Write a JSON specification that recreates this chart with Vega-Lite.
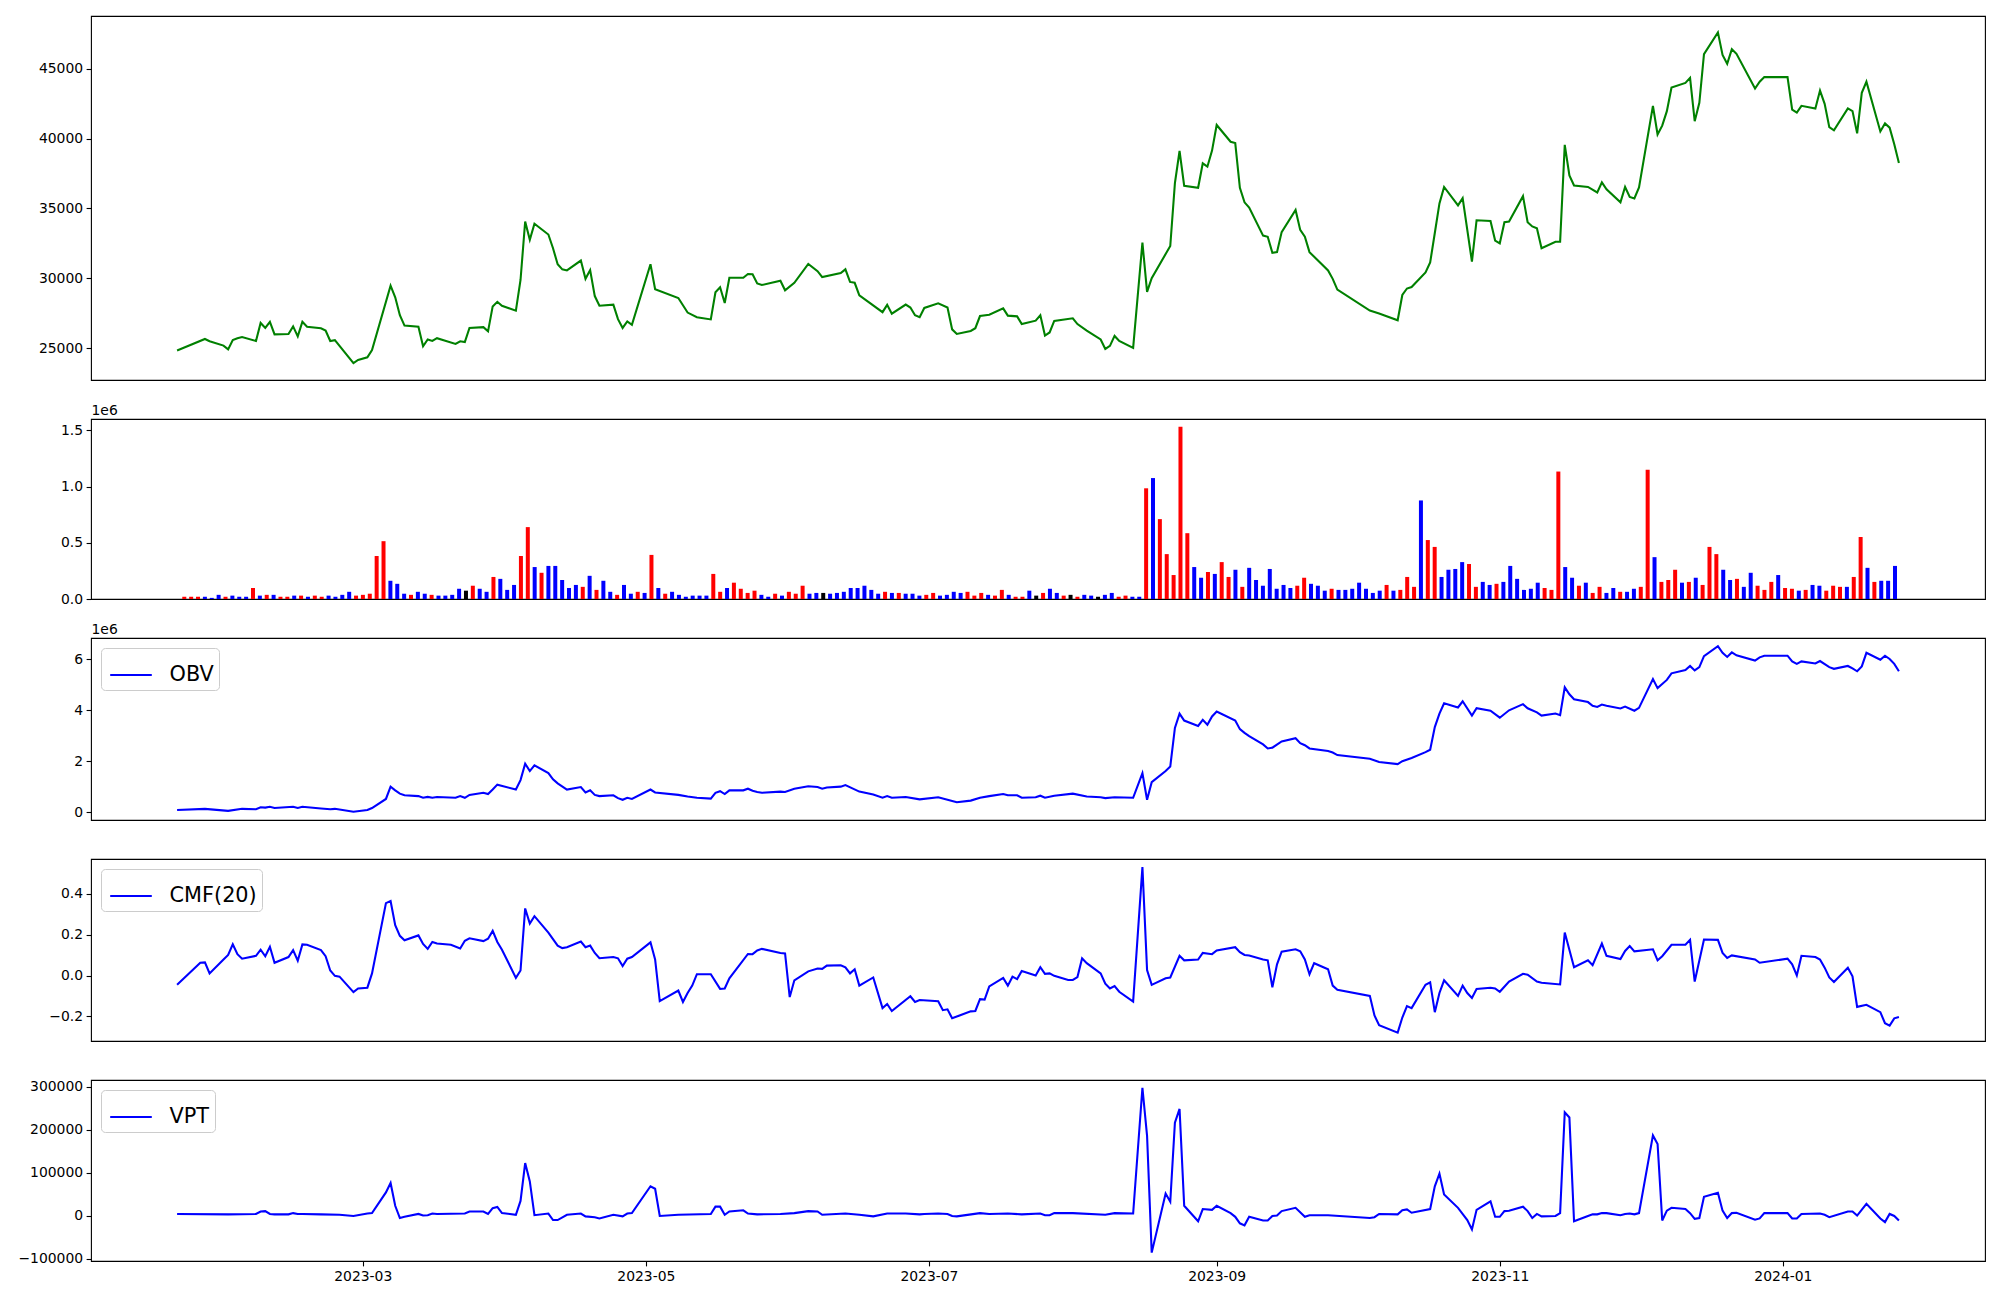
{
"$schema": "https://vega.github.io/schema/vega-lite/v6.json",
"background": "white",
"padding": {"left": 17, "top": 15, "right": 5, "bottom": 5},
"config": {
 "font": "DejaVu Sans",
 "view": {"stroke": "black", "strokeWidth": 1.1},
 "axis": {"domain": false, "grid": false, "tickColor": "black", "tickSize": 4.9, "tickWidth": 1.1, "labelColor": "black", "labelFontSize": 13.9, "labelPadding": 3.5, "labelOverlap": false, "labelFlush": false, "titleColor": "black"},
 "legend": {"orient": "top-left", "offset": 10.4, "symbolType": "stroke", "symbolSize": 1730, "symbolStrokeWidth": 2.08, "symbolOffset": 3, "labelFontSize": 20.8, "labelColor": "black", "labelOffset": 16.6, "padding": 5, "fillColor": "rgba(255,255,255,0.8)", "strokeColor": "#cccccc", "cornerRadius": 4}
},
"datasets": {
"price": [
{"date":"2023-01-20","close":24850},{"date":"2023-01-26","close":25670},{"date":"2023-01-27","close":25510},{"date":"2023-01-30","close":25200},{"date":"2023-01-31","close":24930},{"date":"2023-02-01","close":25590},{"date":"2023-02-02","close":25720},{"date":"2023-02-03","close":25810},{"date":"2023-02-06","close":25530},{"date":"2023-02-07","close":26820},{"date":"2023-02-08","close":26460},{"date":"2023-02-09","close":26900},{"date":"2023-02-10","close":26000},{"date":"2023-02-13","close":26030},{"date":"2023-02-14","close":26570},{"date":"2023-02-15","close":25860},{"date":"2023-02-16","close":26900},{"date":"2023-02-17","close":26550},{"date":"2023-02-20","close":26440},{"date":"2023-02-21","close":26270},{"date":"2023-02-22","close":25530},{"date":"2023-02-23","close":25590},{"date":"2023-02-27","close":23950},{"date":"2023-02-28","close":24170},{"date":"2023-03-02","close":24360},{"date":"2023-03-03","close":24880},{"date":"2023-03-07","close":29480},{"date":"2023-03-08","close":28650},{"date":"2023-03-09","close":27370},{"date":"2023-03-10","close":26630},{"date":"2023-03-13","close":26550},{"date":"2023-03-14","close":25150},{"date":"2023-03-15","close":25640},{"date":"2023-03-16","close":25530},{"date":"2023-03-17","close":25730},{"date":"2023-03-21","close":25320},{"date":"2023-03-22","close":25510},{"date":"2023-03-23","close":25450},{"date":"2023-03-24","close":26460},{"date":"2023-03-27","close":26520},{"date":"2023-03-28","close":26220},{"date":"2023-03-29","close":28000},{"date":"2023-03-30","close":28330},{"date":"2023-03-31","close":28050},{"date":"2023-04-03","close":27700},{"date":"2023-04-04","close":29890},{"date":"2023-04-05","close":34070},{"date":"2023-04-06","close":32760},{"date":"2023-04-07","close":33910},{"date":"2023-04-10","close":33140},{"date":"2023-04-11","close":32160},{"date":"2023-04-12","close":31010},{"date":"2023-04-13","close":30650},{"date":"2023-04-14","close":30570},{"date":"2023-04-17","close":31280},{"date":"2023-04-18","close":29970},{"date":"2023-04-19","close":30600},{"date":"2023-04-20","close":28740},{"date":"2023-04-21","close":28050},{"date":"2023-04-24","close":28130},{"date":"2023-04-25","close":27090},{"date":"2023-04-26","close":26460},{"date":"2023-04-27","close":26930},{"date":"2023-04-28","close":26680},{"date":"2023-05-02","close":31010},{"date":"2023-05-03","close":29230},{"date":"2023-05-08","close":28600},{"date":"2023-05-10","close":27560},{"date":"2023-05-12","close":27230},{"date":"2023-05-15","close":27070},{"date":"2023-05-16","close":29010},{"date":"2023-05-17","close":29370},{"date":"2023-05-18","close":28240},{"date":"2023-05-19","close":30050},{"date":"2023-05-22","close":30050},{"date":"2023-05-23","close":30320},{"date":"2023-05-24","close":30300},{"date":"2023-05-25","close":29640},{"date":"2023-05-26","close":29530},{"date":"2023-05-30","close":29830},{"date":"2023-05-31","close":29150},{"date":"2023-06-02","close":29690},{"date":"2023-06-05","close":31040},{"date":"2023-06-07","close":30520},{"date":"2023-06-08","close":30100},{"date":"2023-06-12","close":30380},{"date":"2023-06-13","close":30650},{"date":"2023-06-14","close":29750},{"date":"2023-06-15","close":29690},{"date":"2023-06-16","close":28790},{"date":"2023-06-21","close":27590},{"date":"2023-06-22","close":28110},{"date":"2023-06-23","close":27480},{"date":"2023-06-26","close":28130},{"date":"2023-06-27","close":27920},{"date":"2023-06-28","close":27370},{"date":"2023-06-29","close":27230},{"date":"2023-06-30","close":27890},{"date":"2023-07-03","close":28220},{"date":"2023-07-05","close":27920},{"date":"2023-07-06","close":26360},{"date":"2023-07-07","close":26030},{"date":"2023-07-10","close":26250},{"date":"2023-07-11","close":26440},{"date":"2023-07-12","close":27310},{"date":"2023-07-14","close":27400},{"date":"2023-07-17","close":27860},{"date":"2023-07-18","close":27340},{"date":"2023-07-20","close":27290},{"date":"2023-07-21","close":26740},{"date":"2023-07-24","close":26980},{"date":"2023-07-25","close":27370},{"date":"2023-07-26","close":25920},{"date":"2023-07-27","close":26140},{"date":"2023-07-28","close":26960},{"date":"2023-08-01","close":27150},{"date":"2023-08-02","close":26740},{"date":"2023-08-04","close":26270},{"date":"2023-08-07","close":25640},{"date":"2023-08-08","close":24960},{"date":"2023-08-09","close":25180},{"date":"2023-08-10","close":25890},{"date":"2023-08-11","close":25530},{"date":"2023-08-14","close":25040},{"date":"2023-08-16","close":32570},{"date":"2023-08-17","close":29040},{"date":"2023-08-18","close":30020},{"date":"2023-08-22","close":32320},{"date":"2023-08-23","close":36810},{"date":"2023-08-24","close":39110},{"date":"2023-08-25","close":36620},{"date":"2023-08-28","close":36480},{"date":"2023-08-29","close":38230},{"date":"2023-08-30","close":37990},{"date":"2023-08-31","close":39140},{"date":"2023-09-01","close":40970},{"date":"2023-09-04","close":39770},{"date":"2023-09-05","close":39680},{"date":"2023-09-06","close":36480},{"date":"2023-09-07","close":35440},{"date":"2023-09-08","close":35060},{"date":"2023-09-11","close":33060},{"date":"2023-09-12","close":32980},{"date":"2023-09-13","close":31830},{"date":"2023-09-14","close":31880},{"date":"2023-09-15","close":33310},{"date":"2023-09-18","close":34890},{"date":"2023-09-19","close":33470},{"date":"2023-09-20","close":32980},{"date":"2023-09-21","close":31880},{"date":"2023-09-25","close":30570},{"date":"2023-09-26","close":29970},{"date":"2023-09-27","close":29200},{"date":"2023-10-04","close":27700},{"date":"2023-10-06","close":27500},{"date":"2023-10-10","close":27010},{"date":"2023-10-11","close":28820},{"date":"2023-10-12","close":29280},{"date":"2023-10-13","close":29390},{"date":"2023-10-16","close":30430},{"date":"2023-10-17","close":31140},{"date":"2023-10-18","close":33250},{"date":"2023-10-19","close":35360},{"date":"2023-10-20","close":36540},{"date":"2023-10-23","close":35220},{"date":"2023-10-24","close":35740},{"date":"2023-10-26","close":31200},{"date":"2023-10-27","close":34160},{"date":"2023-10-30","close":34100},{"date":"2023-10-31","close":32710},{"date":"2023-11-01","close":32510},{"date":"2023-11-02","close":34020},{"date":"2023-11-03","close":34070},{"date":"2023-11-06","close":35880},{"date":"2023-11-07","close":34020},{"date":"2023-11-08","close":33720},{"date":"2023-11-09","close":33580},{"date":"2023-11-10","close":32160},{"date":"2023-11-13","close":32620},{"date":"2023-11-14","close":32620},{"date":"2023-11-15","close":39550},{"date":"2023-11-16","close":37360},{"date":"2023-11-17","close":36650},{"date":"2023-11-20","close":36540},{"date":"2023-11-22","close":36150},{"date":"2023-11-23","close":36870},{"date":"2023-11-24","close":36370},{"date":"2023-11-27","close":35440},{"date":"2023-11-28","close":36540},{"date":"2023-11-29","close":35830},{"date":"2023-11-30","close":35720},{"date":"2023-12-01","close":36510},{"date":"2023-12-04","close":42340},{"date":"2023-12-05","close":40290},{"date":"2023-12-06","close":40920},{"date":"2023-12-07","close":41960},{"date":"2023-12-08","close":43650},{"date":"2023-12-11","close":43980},{"date":"2023-12-12","close":44340},{"date":"2023-12-13","close":41240},{"date":"2023-12-14","close":42560},{"date":"2023-12-15","close":46030},{"date":"2023-12-18","close":47590},{"date":"2023-12-19","close":45980},{"date":"2023-12-20","close":45350},{"date":"2023-12-21","close":46390},{"date":"2023-12-22","close":46060},{"date":"2023-12-26","close":43570},{"date":"2023-12-27","close":44060},{"date":"2023-12-28","close":44390},{"date":"2024-01-02","close":44390},{"date":"2024-01-03","close":42070},{"date":"2024-01-04","close":41850},{"date":"2024-01-05","close":42340},{"date":"2024-01-08","close":42150},{"date":"2024-01-09","close":43430},{"date":"2024-01-10","close":42480},{"date":"2024-01-11","close":40810},{"date":"2024-01-12","close":40590},{"date":"2024-01-15","close":42150},{"date":"2024-01-16","close":41960},{"date":"2024-01-17","close":40370},{"date":"2024-01-18","close":43270},{"date":"2024-01-19","close":44060},{"date":"2024-01-22","close":40510},{"date":"2024-01-23","close":41080},{"date":"2024-01-24","close":40780},{"date":"2024-01-25","close":39600},{"date":"2024-01-26","close":38260}
],
"bars": [
{"t":1674222400000,"volume":20000,"dir":"up"},{"t":1674350980000,"volume":20000,"dir":"up"},{"t":1674479560000,"volume":20000,"dir":"up"},{"t":1674608140000,"volume":20000,"dir":"down"},{"t":1674736720000,"volume":10000,"dir":"down"},{"t":1674865300000,"volume":37000,"dir":"down"},{"t":1674993880000,"volume":20000,"dir":"up"},{"t":1675122460000,"volume":30000,"dir":"down"},{"t":1675251040000,"volume":20000,"dir":"down"},{"t":1675379620000,"volume":20000,"dir":"down"},
{"t":1675508200000,"volume":98000,"dir":"up"},{"t":1675636780000,"volume":30000,"dir":"down"},{"t":1675765360000,"volume":37000,"dir":"up"},{"t":1675893940000,"volume":37000,"dir":"down"},{"t":1676022520000,"volume":20000,"dir":"up"},{"t":1676151100000,"volume":20000,"dir":"up"},{"t":1676279680000,"volume":30000,"dir":"down"},{"t":1676408260000,"volume":30000,"dir":"up"},{"t":1676536840000,"volume":20000,"dir":"down"},{"t":1676665420000,"volume":30000,"dir":"up"},
{"t":1676794000000,"volume":20000,"dir":"up"},{"t":1676922580000,"volume":30000,"dir":"down"},{"t":1677051160000,"volume":20000,"dir":"down"},{"t":1677179740000,"volume":37000,"dir":"down"},{"t":1677308320000,"volume":64000,"dir":"down"},{"t":1677436900000,"volume":30000,"dir":"up"},{"t":1677565480000,"volume":37000,"dir":"up"},{"t":1677694060000,"volume":47000,"dir":"up"},{"t":1677822640000,"volume":382000,"dir":"up"},{"t":1677951220000,"volume":514000,"dir":"up"},
{"t":1678079800000,"volume":162000,"dir":"down"},{"t":1678208380000,"volume":135000,"dir":"down"},{"t":1678336960000,"volume":47000,"dir":"down"},{"t":1678465540000,"volume":37000,"dir":"up"},{"t":1678594120000,"volume":64000,"dir":"down"},{"t":1678722700000,"volume":47000,"dir":"down"},{"t":1678851280000,"volume":37000,"dir":"up"},{"t":1678979860000,"volume":30000,"dir":"down"},{"t":1679108440000,"volume":30000,"dir":"down"},{"t":1679237020000,"volume":37000,"dir":"down"},
{"t":1679365600000,"volume":91000,"dir":"down"},{"t":1679494180000,"volume":74000,"dir":"flat"},{"t":1679622760000,"volume":118000,"dir":"up"},{"t":1679751340000,"volume":91000,"dir":"down"},{"t":1679879920000,"volume":64000,"dir":"down"},{"t":1680008500000,"volume":196000,"dir":"up"},{"t":1680137080000,"volume":179000,"dir":"down"},{"t":1680265660000,"volume":81000,"dir":"down"},{"t":1680394240000,"volume":125000,"dir":"down"},{"t":1680522820000,"volume":382000,"dir":"up"},
{"t":1680651400000,"volume":639000,"dir":"up"},{"t":1680779980000,"volume":284000,"dir":"down"},{"t":1680908560000,"volume":233000,"dir":"up"},{"t":1681037140000,"volume":294000,"dir":"down"},{"t":1681165720000,"volume":294000,"dir":"down"},{"t":1681294300000,"volume":169000,"dir":"down"},{"t":1681422880000,"volume":98000,"dir":"down"},{"t":1681551460000,"volume":125000,"dir":"down"},{"t":1681680040000,"volume":108000,"dir":"up"},{"t":1681808620000,"volume":206000,"dir":"down"},
{"t":1681937200000,"volume":81000,"dir":"up"},{"t":1682065780000,"volume":162000,"dir":"down"},{"t":1682194360000,"volume":64000,"dir":"down"},{"t":1682322940000,"volume":37000,"dir":"up"},{"t":1682451520000,"volume":125000,"dir":"down"},{"t":1682580100000,"volume":47000,"dir":"down"},{"t":1682708680000,"volume":64000,"dir":"up"},{"t":1682837260000,"volume":54000,"dir":"down"},{"t":1682965840000,"volume":392000,"dir":"up"},{"t":1683094420000,"volume":98000,"dir":"down"},
{"t":1683223000000,"volume":47000,"dir":"up"},{"t":1683351580000,"volume":64000,"dir":"down"},{"t":1683480160000,"volume":37000,"dir":"down"},{"t":1683608740000,"volume":20000,"dir":"down"},{"t":1683737320000,"volume":30000,"dir":"down"},{"t":1683865900000,"volume":30000,"dir":"down"},{"t":1683994480000,"volume":30000,"dir":"down"},{"t":1684123060000,"volume":223000,"dir":"up"},{"t":1684251640000,"volume":64000,"dir":"up"},{"t":1684380220000,"volume":98000,"dir":"down"},
{"t":1684508800000,"volume":145000,"dir":"up"},{"t":1684637380000,"volume":91000,"dir":"up"},{"t":1684765960000,"volume":54000,"dir":"up"},{"t":1684894540000,"volume":74000,"dir":"up"},{"t":1685023120000,"volume":37000,"dir":"down"},{"t":1685151700000,"volume":20000,"dir":"down"},{"t":1685280280000,"volume":47000,"dir":"up"},{"t":1685408860000,"volume":30000,"dir":"down"},{"t":1685537440000,"volume":64000,"dir":"up"},{"t":1685666020000,"volume":47000,"dir":"up"},
{"t":1685794600000,"volume":118000,"dir":"up"},{"t":1685923180000,"volume":47000,"dir":"down"},{"t":1686051760000,"volume":54000,"dir":"down"},{"t":1686180340000,"volume":54000,"dir":"flat"},{"t":1686308920000,"volume":47000,"dir":"down"},{"t":1686437500000,"volume":54000,"dir":"down"},{"t":1686566080000,"volume":64000,"dir":"down"},{"t":1686694660000,"volume":98000,"dir":"down"},{"t":1686823240000,"volume":98000,"dir":"down"},{"t":1686951820000,"volume":118000,"dir":"down"},
{"t":1687080400000,"volume":81000,"dir":"down"},{"t":1687208980000,"volume":47000,"dir":"down"},{"t":1687337560000,"volume":64000,"dir":"up"},{"t":1687466140000,"volume":54000,"dir":"down"},{"t":1687594720000,"volume":54000,"dir":"up"},{"t":1687723300000,"volume":47000,"dir":"down"},{"t":1687851880000,"volume":47000,"dir":"down"},{"t":1687980460000,"volume":30000,"dir":"down"},{"t":1688109040000,"volume":37000,"dir":"up"},{"t":1688237620000,"volume":54000,"dir":"up"},
{"t":1688366200000,"volume":30000,"dir":"down"},{"t":1688494780000,"volume":37000,"dir":"down"},{"t":1688623360000,"volume":64000,"dir":"down"},{"t":1688751940000,"volume":54000,"dir":"down"},{"t":1688880520000,"volume":64000,"dir":"up"},{"t":1689009100000,"volume":30000,"dir":"up"},{"t":1689137680000,"volume":54000,"dir":"up"},{"t":1689266260000,"volume":37000,"dir":"down"},{"t":1689394840000,"volume":30000,"dir":"up"},{"t":1689523420000,"volume":81000,"dir":"up"},
{"t":1689652000000,"volume":37000,"dir":"down"},{"t":1689780580000,"volume":20000,"dir":"up"},{"t":1689909160000,"volume":20000,"dir":"up"},{"t":1690037740000,"volume":74000,"dir":"down"},{"t":1690166320000,"volume":30000,"dir":"flat"},{"t":1690294900000,"volume":54000,"dir":"up"},{"t":1690423480000,"volume":91000,"dir":"down"},{"t":1690552060000,"volume":54000,"dir":"down"},{"t":1690680640000,"volume":30000,"dir":"up"},{"t":1690809220000,"volume":37000,"dir":"flat"},
{"t":1690937800000,"volume":20000,"dir":"up"},{"t":1691066380000,"volume":37000,"dir":"down"},{"t":1691194960000,"volume":30000,"dir":"down"},{"t":1691323540000,"volume":20000,"dir":"flat"},{"t":1691452120000,"volume":37000,"dir":"down"},{"t":1691580700000,"volume":54000,"dir":"down"},{"t":1691709280000,"volume":20000,"dir":"up"},{"t":1691837860000,"volume":30000,"dir":"up"},{"t":1691966440000,"volume":20000,"dir":"down"},{"t":1692095020000,"volume":20000,"dir":"down"},
{"t":1692223600000,"volume":984000,"dir":"up"},{"t":1692352180000,"volume":1075000,"dir":"down"},{"t":1692480760000,"volume":710000,"dir":"up"},{"t":1692609340000,"volume":399000,"dir":"up"},{"t":1692737920000,"volume":213000,"dir":"up"},{"t":1692866500000,"volume":1532000,"dir":"up"},{"t":1692995080000,"volume":585000,"dir":"up"},{"t":1693123660000,"volume":284000,"dir":"down"},{"t":1693252240000,"volume":189000,"dir":"down"},{"t":1693380820000,"volume":240000,"dir":"up"},
{"t":1693509400000,"volume":223000,"dir":"down"},{"t":1693637980000,"volume":328000,"dir":"up"},{"t":1693766560000,"volume":196000,"dir":"up"},{"t":1693895140000,"volume":260000,"dir":"down"},{"t":1694023720000,"volume":108000,"dir":"up"},{"t":1694152300000,"volume":277000,"dir":"down"},{"t":1694280880000,"volume":169000,"dir":"down"},{"t":1694409460000,"volume":118000,"dir":"down"},{"t":1694538040000,"volume":267000,"dir":"down"},{"t":1694666620000,"volume":91000,"dir":"down"},
{"t":1694795200000,"volume":125000,"dir":"down"},{"t":1694923780000,"volume":98000,"dir":"down"},{"t":1695052360000,"volume":118000,"dir":"up"},{"t":1695180940000,"volume":189000,"dir":"up"},{"t":1695309520000,"volume":135000,"dir":"down"},{"t":1695438100000,"volume":118000,"dir":"down"},{"t":1695566680000,"volume":74000,"dir":"down"},{"t":1695695260000,"volume":91000,"dir":"up"},{"t":1695823840000,"volume":81000,"dir":"down"},{"t":1695952420000,"volume":81000,"dir":"down"},
{"t":1696081000000,"volume":91000,"dir":"down"},{"t":1696209580000,"volume":145000,"dir":"down"},{"t":1696338160000,"volume":91000,"dir":"down"},{"t":1696466740000,"volume":54000,"dir":"down"},{"t":1696595320000,"volume":74000,"dir":"down"},{"t":1696723900000,"volume":125000,"dir":"up"},{"t":1696852480000,"volume":74000,"dir":"down"},{"t":1696981060000,"volume":81000,"dir":"up"},{"t":1697109640000,"volume":196000,"dir":"up"},{"t":1697238220000,"volume":108000,"dir":"up"},
{"t":1697366800000,"volume":876000,"dir":"down"},{"t":1697495380000,"volume":524000,"dir":"up"},{"t":1697623960000,"volume":463000,"dir":"up"},{"t":1697752540000,"volume":196000,"dir":"down"},{"t":1697881120000,"volume":260000,"dir":"down"},{"t":1698009700000,"volume":267000,"dir":"down"},{"t":1698138280000,"volume":328000,"dir":"down"},{"t":1698266860000,"volume":311000,"dir":"up"},{"t":1698395440000,"volume":108000,"dir":"up"},{"t":1698524020000,"volume":152000,"dir":"down"},
{"t":1698652600000,"volume":125000,"dir":"down"},{"t":1698781180000,"volume":135000,"dir":"up"},{"t":1698909760000,"volume":152000,"dir":"down"},{"t":1699038340000,"volume":294000,"dir":"down"},{"t":1699166920000,"volume":179000,"dir":"down"},{"t":1699295500000,"volume":81000,"dir":"down"},{"t":1699424080000,"volume":91000,"dir":"down"},{"t":1699552660000,"volume":145000,"dir":"down"},{"t":1699681240000,"volume":98000,"dir":"up"},{"t":1699809820000,"volume":81000,"dir":"up"},
{"t":1699938400000,"volume":1133000,"dir":"up"},{"t":1700066980000,"volume":284000,"dir":"down"},{"t":1700195560000,"volume":189000,"dir":"down"},{"t":1700324140000,"volume":118000,"dir":"up"},{"t":1700452720000,"volume":145000,"dir":"down"},{"t":1700581300000,"volume":54000,"dir":"up"},{"t":1700709880000,"volume":108000,"dir":"up"},{"t":1700838460000,"volume":54000,"dir":"down"},{"t":1700967040000,"volume":98000,"dir":"down"},{"t":1701095620000,"volume":64000,"dir":"up"},
{"t":1701224200000,"volume":64000,"dir":"down"},{"t":1701352780000,"volume":91000,"dir":"down"},{"t":1701481360000,"volume":108000,"dir":"up"},{"t":1701609940000,"volume":1150000,"dir":"up"},{"t":1701738520000,"volume":372000,"dir":"down"},{"t":1701867100000,"volume":152000,"dir":"up"},{"t":1701995680000,"volume":169000,"dir":"up"},{"t":1702124260000,"volume":260000,"dir":"up"},{"t":1702252840000,"volume":145000,"dir":"down"},{"t":1702381420000,"volume":152000,"dir":"up"},
{"t":1702510000000,"volume":189000,"dir":"down"},{"t":1702638580000,"volume":125000,"dir":"up"},{"t":1702767160000,"volume":463000,"dir":"up"},{"t":1702895740000,"volume":399000,"dir":"up"},{"t":1703024320000,"volume":260000,"dir":"down"},{"t":1703152900000,"volume":169000,"dir":"down"},{"t":1703281480000,"volume":179000,"dir":"up"},{"t":1703410060000,"volume":108000,"dir":"down"},{"t":1703538640000,"volume":233000,"dir":"down"},{"t":1703667220000,"volume":118000,"dir":"up"},
{"t":1703795800000,"volume":81000,"dir":"up"},{"t":1703924380000,"volume":152000,"dir":"up"},{"t":1704052960000,"volume":213000,"dir":"down"},{"t":1704181540000,"volume":98000,"dir":"up"},{"t":1704310120000,"volume":91000,"dir":"up"},{"t":1704438700000,"volume":74000,"dir":"down"},{"t":1704567280000,"volume":81000,"dir":"up"},{"t":1704695860000,"volume":125000,"dir":"down"},{"t":1704824440000,"volume":118000,"dir":"down"},{"t":1704953020000,"volume":74000,"dir":"up"},
{"t":1705081600000,"volume":118000,"dir":"up"},{"t":1705210180000,"volume":108000,"dir":"up"},{"t":1705338760000,"volume":108000,"dir":"down"},{"t":1705467340000,"volume":196000,"dir":"up"},{"t":1705595920000,"volume":551000,"dir":"up"},{"t":1705724500000,"volume":277000,"dir":"down"},{"t":1705853080000,"volume":152000,"dir":"up"},{"t":1705981660000,"volume":162000,"dir":"down"},{"t":1706110240000,"volume":162000,"dir":"down"},{"t":1706238820000,"volume":294000,"dir":"down"}
],
"obv": [
{"date":"2023-01-20","obv":84000},{"date":"2023-01-26","obv":132000},{"date":"2023-01-31","obv":52000},{"date":"2023-02-03","obv":132000},{"date":"2023-02-06","obv":116000},{"date":"2023-02-07","obv":197000},{"date":"2023-02-08","obv":181000},{"date":"2023-02-09","obv":213000},{"date":"2023-02-10","obv":164000},{"date":"2023-02-14","obv":213000},{"date":"2023-02-15","obv":164000},{"date":"2023-02-16","obv":213000},{"date":"2023-02-20","obv":148000},{"date":"2023-02-22","obv":116000},{"date":"2023-02-23","obv":132000},{"date":"2023-02-27","obv":19000},{"date":"2023-03-02","obv":84000},{"date":"2023-03-03","obv":164000},{"date":"2023-03-06","obv":519000},{"date":"2023-03-07","obv":1003000},{"date":"2023-03-08","obv":858000},{"date":"2023-03-09","obv":729000},{"date":"2023-03-10","obv":664000},{"date":"2023-03-13","obv":632000},{"date":"2023-03-14","obv":567000},{"date":"2023-03-15","obv":600000},{"date":"2023-03-16","obv":567000},{"date":"2023-03-17","obv":600000},{"date":"2023-03-21","obv":567000},{"date":"2023-03-22","obv":632000},{"date":"2023-03-23","obv":567000},{"date":"2023-03-24","obv":680000},{"date":"2023-03-27","obv":761000},{"date":"2023-03-28","obv":713000},{"date":"2023-03-29","obv":890000},{"date":"2023-03-30","obv":1083000},{"date":"2023-04-03","obv":890000},{"date":"2023-04-04","obv":1261000},{"date":"2023-04-05","obv":1905000},{"date":"2023-04-06","obv":1615000},{"date":"2023-04-07","obv":1841000},{"date":"2023-04-10","obv":1535000},{"date":"2023-04-11","obv":1293000},{"date":"2023-04-12","obv":1132000},{"date":"2023-04-14","obv":890000},{"date":"2023-04-17","obv":987000},{"date":"2023-04-18","obv":777000},{"date":"2023-04-19","obv":858000},{"date":"2023-04-20","obv":680000},{"date":"2023-04-21","obv":632000},{"date":"2023-04-24","obv":664000},{"date":"2023-04-25","obv":552000},{"date":"2023-04-26","obv":488000},{"date":"2023-04-27","obv":567000},{"date":"2023-04-28","obv":519000},{"date":"2023-05-02","obv":890000},{"date":"2023-05-03","obv":777000},{"date":"2023-05-08","obv":680000},{"date":"2023-05-10","obv":616000},{"date":"2023-05-12","obv":567000},{"date":"2023-05-15","obv":535000},{"date":"2023-05-16","obv":761000},{"date":"2023-05-17","obv":826000},{"date":"2023-05-18","obv":713000},{"date":"2023-05-19","obv":858000},{"date":"2023-05-22","obv":858000},{"date":"2023-05-23","obv":922000},{"date":"2023-05-24","obv":840000},{"date":"2023-05-25","obv":793000},{"date":"2023-05-26","obv":761000},{"date":"2023-05-30","obv":809000},{"date":"2023-05-31","obv":793000},{"date":"2023-06-02","obv":922000},{"date":"2023-06-05","obv":1019000},{"date":"2023-06-07","obv":987000},{"date":"2023-06-08","obv":922000},{"date":"2023-06-09","obv":971000},{"date":"2023-06-12","obv":1003000},{"date":"2023-06-13","obv":1067000},{"date":"2023-06-16","obv":809000},{"date":"2023-06-19","obv":696000},{"date":"2023-06-21","obv":567000},{"date":"2023-06-22","obv":632000},{"date":"2023-06-23","obv":567000},{"date":"2023-06-26","obv":600000},{"date":"2023-06-29","obv":503000},{"date":"2023-07-03","obv":584000},{"date":"2023-07-05","obv":487000},{"date":"2023-07-07","obv":390000},{"date":"2023-07-10","obv":455000},{"date":"2023-07-12","obv":567000},{"date":"2023-07-14","obv":632000},{"date":"2023-07-17","obv":713000},{"date":"2023-07-18","obv":664000},{"date":"2023-07-20","obv":664000},{"date":"2023-07-21","obv":567000},{"date":"2023-07-24","obv":584000},{"date":"2023-07-25","obv":648000},{"date":"2023-07-26","obv":567000},{"date":"2023-07-28","obv":648000},{"date":"2023-08-01","obv":729000},{"date":"2023-08-04","obv":616000},{"date":"2023-08-07","obv":584000},{"date":"2023-08-08","obv":552000},{"date":"2023-08-10","obv":584000},{"date":"2023-08-14","obv":567000},{"date":"2023-08-16","obv":1535000},{"date":"2023-08-17","obv":487000},{"date":"2023-08-18","obv":1180000},{"date":"2023-08-21","obv":1615000},{"date":"2023-08-22","obv":1793000},{"date":"2023-08-23","obv":3308000},{"date":"2023-08-24","obv":3873000},{"date":"2023-08-25","obv":3598000},{"date":"2023-08-28","obv":3389000},{"date":"2023-08-29","obv":3630000},{"date":"2023-08-30","obv":3437000},{"date":"2023-08-31","obv":3759000},{"date":"2023-09-01","obv":3953000},{"date":"2023-09-05","obv":3598000},{"date":"2023-09-06","obv":3260000},{"date":"2023-09-07","obv":3115000},{"date":"2023-09-08","obv":2986000},{"date":"2023-09-11","obv":2664000},{"date":"2023-09-12","obv":2503000},{"date":"2023-09-13","obv":2535000},{"date":"2023-09-15","obv":2777000},{"date":"2023-09-18","obv":2906000},{"date":"2023-09-19","obv":2712000},{"date":"2023-09-20","obv":2632000},{"date":"2023-09-21","obv":2503000},{"date":"2023-09-25","obv":2400000},{"date":"2023-09-26","obv":2341000},{"date":"2023-09-27","obv":2244000},{"date":"2023-10-04","obv":2099000},{"date":"2023-10-06","obv":1970000},{"date":"2023-10-10","obv":1889000},{"date":"2023-10-11","obv":2002000},{"date":"2023-10-13","obv":2131000},{"date":"2023-10-16","obv":2357000},{"date":"2023-10-17","obv":2454000},{"date":"2023-10-18","obv":3340000},{"date":"2023-10-19","obv":3873000},{"date":"2023-10-20","obv":4276000},{"date":"2023-10-23","obv":4114000},{"date":"2023-10-24","obv":4356000},{"date":"2023-10-26","obv":3792000},{"date":"2023-10-27","obv":4082000},{"date":"2023-10-30","obv":3985000},{"date":"2023-11-01","obv":3711000},{"date":"2023-11-03","obv":4001000},{"date":"2023-11-06","obv":4243000},{"date":"2023-11-07","obv":4082000},{"date":"2023-11-09","obv":3920000},{"date":"2023-11-10","obv":3792000},{"date":"2023-11-13","obv":3872000},{"date":"2023-11-14","obv":3808000},{"date":"2023-11-15","obv":4904000},{"date":"2023-11-16","obv":4630000},{"date":"2023-11-17","obv":4437000},{"date":"2023-11-20","obv":4324000},{"date":"2023-11-21","obv":4179000},{"date":"2023-11-22","obv":4131000},{"date":"2023-11-23","obv":4227000},{"date":"2023-11-24","obv":4179000},{"date":"2023-11-27","obv":4074000},{"date":"2023-11-28","obv":4146000},{"date":"2023-11-30","obv":3985000},{"date":"2023-12-01","obv":4098000},{"date":"2023-12-04","obv":5226000},{"date":"2023-12-05","obv":4872000},{"date":"2023-12-07","obv":5194000},{"date":"2023-12-08","obv":5452000},{"date":"2023-12-11","obv":5581000},{"date":"2023-12-12","obv":5742000},{"date":"2023-12-13","obv":5565000},{"date":"2023-12-14","obv":5694000},{"date":"2023-12-15","obv":6129000},{"date":"2023-12-18","obv":6516000},{"date":"2023-12-19","obv":6258000},{"date":"2023-12-20","obv":6097000},{"date":"2023-12-21","obv":6274000},{"date":"2023-12-22","obv":6161000},{"date":"2023-12-26","obv":5952000},{"date":"2023-12-27","obv":6081000},{"date":"2023-12-28","obv":6145000},{"date":"2024-01-02","obv":6145000},{"date":"2024-01-03","obv":5920000},{"date":"2024-01-04","obv":5823000},{"date":"2024-01-05","obv":5920000},{"date":"2024-01-08","obv":5839000},{"date":"2024-01-09","obv":5936000},{"date":"2024-01-11","obv":5694000},{"date":"2024-01-12","obv":5629000},{"date":"2024-01-15","obv":5742000},{"date":"2024-01-16","obv":5645000},{"date":"2024-01-17","obv":5533000},{"date":"2024-01-18","obv":5726000},{"date":"2024-01-19","obv":6258000},{"date":"2024-01-22","obv":5984000},{"date":"2024-01-23","obv":6145000},{"date":"2024-01-24","obv":6016000},{"date":"2024-01-25","obv":5823000},{"date":"2024-01-26","obv":5533000}
],
"cmf": [
{"date":"2023-01-20","cmf":-0.045},{"date":"2023-01-25","cmf":0.063},{"date":"2023-01-26","cmf":0.065},{"date":"2023-01-27","cmf":0.011},{"date":"2023-01-30","cmf":0.079},{"date":"2023-01-31","cmf":0.101},{"date":"2023-02-01","cmf":0.153},{"date":"2023-02-02","cmf":0.105},{"date":"2023-02-03","cmf":0.083},{"date":"2023-02-06","cmf":0.097},{"date":"2023-02-07","cmf":0.127},{"date":"2023-02-08","cmf":0.095},{"date":"2023-02-09","cmf":0.141},{"date":"2023-02-10","cmf":0.063},{"date":"2023-02-13","cmf":0.091},{"date":"2023-02-14","cmf":0.125},{"date":"2023-02-15","cmf":0.073},{"date":"2023-02-16","cmf":0.153},{"date":"2023-02-17","cmf":0.151},{"date":"2023-02-20","cmf":0.125},{"date":"2023-02-21","cmf":0.095},{"date":"2023-02-22","cmf":0.025},{"date":"2023-02-23","cmf":-0.001},{"date":"2023-02-24","cmf":-0.005},{"date":"2023-02-27","cmf":-0.081},{"date":"2023-02-28","cmf":-0.063},{"date":"2023-03-02","cmf":-0.059},{"date":"2023-03-03","cmf":0.011},{"date":"2023-03-06","cmf":0.355},{"date":"2023-03-07","cmf":0.365},{"date":"2023-03-08","cmf":0.247},{"date":"2023-03-09","cmf":0.195},{"date":"2023-03-10","cmf":0.173},{"date":"2023-03-13","cmf":0.197},{"date":"2023-03-14","cmf":0.155},{"date":"2023-03-15","cmf":0.131},{"date":"2023-03-16","cmf":0.165},{"date":"2023-03-17","cmf":0.157},{"date":"2023-03-20","cmf":0.151},{"date":"2023-03-22","cmf":0.133},{"date":"2023-03-23","cmf":0.171},{"date":"2023-03-24","cmf":0.183},{"date":"2023-03-27","cmf":0.169},{"date":"2023-03-28","cmf":0.181},{"date":"2023-03-29","cmf":0.219},{"date":"2023-03-30","cmf":0.165},{"date":"2023-03-31","cmf":0.127},{"date":"2023-04-03","cmf":-0.011},{"date":"2023-04-04","cmf":0.025},{"date":"2023-04-05","cmf":0.329},{"date":"2023-04-06","cmf":0.255},{"date":"2023-04-07","cmf":0.291},{"date":"2023-04-10","cmf":0.211},{"date":"2023-04-12","cmf":0.147},{"date":"2023-04-13","cmf":0.135},{"date":"2023-04-14","cmf":0.139},{"date":"2023-04-17","cmf":0.167},{"date":"2023-04-18","cmf":0.139},{"date":"2023-04-19","cmf":0.147},{"date":"2023-04-20","cmf":0.111},{"date":"2023-04-21","cmf":0.085},{"date":"2023-04-24","cmf":0.091},{"date":"2023-04-25","cmf":0.085},{"date":"2023-04-26","cmf":0.047},{"date":"2023-04-27","cmf":0.083},{"date":"2023-04-28","cmf":0.091},{"date":"2023-05-02","cmf":0.163},{"date":"2023-05-03","cmf":0.079},{"date":"2023-05-04","cmf":-0.125},{"date":"2023-05-08","cmf":-0.073},{"date":"2023-05-09","cmf":-0.129},{"date":"2023-05-10","cmf":-0.085},{"date":"2023-05-11","cmf":-0.049},{"date":"2023-05-12","cmf":0.007},{"date":"2023-05-15","cmf":0.007},{"date":"2023-05-17","cmf":-0.065},{"date":"2023-05-18","cmf":-0.063},{"date":"2023-05-19","cmf":-0.013},{"date":"2023-05-23","cmf":0.106},{"date":"2023-05-24","cmf":0.105},{"date":"2023-05-25","cmf":0.123},{"date":"2023-05-26","cmf":0.131},{"date":"2023-05-30","cmf":0.111},{"date":"2023-05-31","cmf":0.109},{"date":"2023-06-01","cmf":-0.105},{"date":"2023-06-02","cmf":-0.023},{"date":"2023-06-05","cmf":0.021},{"date":"2023-06-07","cmf":0.035},{"date":"2023-06-08","cmf":0.033},{"date":"2023-06-09","cmf":0.049},{"date":"2023-06-12","cmf":0.051},{"date":"2023-06-13","cmf":0.041},{"date":"2023-06-14","cmf":0.011},{"date":"2023-06-15","cmf":0.031},{"date":"2023-06-16","cmf":-0.049},{"date":"2023-06-19","cmf":-0.009},{"date":"2023-06-21","cmf":-0.159},{"date":"2023-06-22","cmf":-0.139},{"date":"2023-06-23","cmf":-0.173},{"date":"2023-06-27","cmf":-0.101},{"date":"2023-06-28","cmf":-0.129},{"date":"2023-06-29","cmf":-0.119},{"date":"2023-07-03","cmf":-0.125},{"date":"2023-07-04","cmf":-0.169},{"date":"2023-07-05","cmf":-0.165},{"date":"2023-07-06","cmf":-0.209},{"date":"2023-07-10","cmf":-0.175},{"date":"2023-07-11","cmf":-0.173},{"date":"2023-07-12","cmf":-0.115},{"date":"2023-07-13","cmf":-0.117},{"date":"2023-07-14","cmf":-0.053},{"date":"2023-07-17","cmf":-0.011},{"date":"2023-07-18","cmf":-0.049},{"date":"2023-07-19","cmf":-0.005},{"date":"2023-07-20","cmf":-0.017},{"date":"2023-07-21","cmf":0.023},{"date":"2023-07-24","cmf":0.001},{"date":"2023-07-25","cmf":0.041},{"date":"2023-07-26","cmf":0.009},{"date":"2023-07-27","cmf":0.011},{"date":"2023-07-28","cmf":-0.001},{"date":"2023-07-31","cmf":-0.021},{"date":"2023-08-01","cmf":-0.021},{"date":"2023-08-02","cmf":-0.007},{"date":"2023-08-03","cmf":0.085},{"date":"2023-08-04","cmf":0.061},{"date":"2023-08-07","cmf":0.011},{"date":"2023-08-08","cmf":-0.039},{"date":"2023-08-09","cmf":-0.063},{"date":"2023-08-10","cmf":-0.051},{"date":"2023-08-11","cmf":-0.079},{"date":"2023-08-14","cmf":-0.127},{"date":"2023-08-16","cmf":0.531},{"date":"2023-08-17","cmf":0.027},{"date":"2023-08-18","cmf":-0.045},{"date":"2023-08-21","cmf":-0.013},{"date":"2023-08-22","cmf":-0.009},{"date":"2023-08-24","cmf":0.097},{"date":"2023-08-25","cmf":0.075},{"date":"2023-08-28","cmf":0.079},{"date":"2023-08-29","cmf":0.111},{"date":"2023-08-31","cmf":0.105},{"date":"2023-09-01","cmf":0.123},{"date":"2023-09-05","cmf":0.139},{"date":"2023-09-06","cmf":0.115},{"date":"2023-09-07","cmf":0.101},{"date":"2023-09-08","cmf":0.099},{"date":"2023-09-11","cmf":0.079},{"date":"2023-09-12","cmf":0.075},{"date":"2023-09-13","cmf":-0.057},{"date":"2023-09-14","cmf":0.055},{"date":"2023-09-15","cmf":0.117},{"date":"2023-09-18","cmf":0.129},{"date":"2023-09-19","cmf":0.119},{"date":"2023-09-20","cmf":0.079},{"date":"2023-09-21","cmf":0.007},{"date":"2023-09-22","cmf":0.061},{"date":"2023-09-25","cmf":0.031},{"date":"2023-09-26","cmf":-0.049},{"date":"2023-09-27","cmf":-0.069},{"date":"2023-10-04","cmf":-0.099},{"date":"2023-10-05","cmf":-0.195},{"date":"2023-10-06","cmf":-0.243},{"date":"2023-10-10","cmf":-0.279},{"date":"2023-10-11","cmf":-0.205},{"date":"2023-10-12","cmf":-0.149},{"date":"2023-10-13","cmf":-0.159},{"date":"2023-10-16","cmf":-0.045},{"date":"2023-10-17","cmf":-0.033},{"date":"2023-10-18","cmf":-0.179},{"date":"2023-10-19","cmf":-0.085},{"date":"2023-10-20","cmf":-0.023},{"date":"2023-10-23","cmf":-0.099},{"date":"2023-10-24","cmf":-0.049},{"date":"2023-10-25","cmf":-0.085},{"date":"2023-10-26","cmf":-0.109},{"date":"2023-10-27","cmf":-0.065},{"date":"2023-10-30","cmf":-0.059},{"date":"2023-10-31","cmf":-0.063},{"date":"2023-11-01","cmf":-0.079},{"date":"2023-11-03","cmf":-0.029},{"date":"2023-11-06","cmf":0.009},{"date":"2023-11-07","cmf":0.005},{"date":"2023-11-09","cmf":-0.029},{"date":"2023-11-10","cmf":-0.035},{"date":"2023-11-14","cmf":-0.043},{"date":"2023-11-15","cmf":0.211},{"date":"2023-11-17","cmf":0.041},{"date":"2023-11-20","cmf":0.075},{"date":"2023-11-21","cmf":0.051},{"date":"2023-11-23","cmf":0.157},{"date":"2023-11-24","cmf":0.097},{"date":"2023-11-27","cmf":0.081},{"date":"2023-11-28","cmf":0.121},{"date":"2023-11-29","cmf":0.145},{"date":"2023-11-30","cmf":0.119},{"date":"2023-12-04","cmf":0.129},{"date":"2023-12-05","cmf":0.075},{"date":"2023-12-06","cmf":0.095},{"date":"2023-12-08","cmf":0.151},{"date":"2023-12-11","cmf":0.151},{"date":"2023-12-12","cmf":0.175},{"date":"2023-12-13","cmf":-0.029},{"date":"2023-12-15","cmf":0.177},{"date":"2023-12-18","cmf":0.175},{"date":"2023-12-19","cmf":0.111},{"date":"2023-12-20","cmf":0.087},{"date":"2023-12-21","cmf":0.099},{"date":"2023-12-26","cmf":0.079},{"date":"2023-12-27","cmf":0.063},{"date":"2024-01-02","cmf":0.083},{"date":"2024-01-03","cmf":0.055},{"date":"2024-01-04","cmf":0.001},{"date":"2024-01-05","cmf":0.097},{"date":"2024-01-08","cmf":0.091},{"date":"2024-01-09","cmf":0.079},{"date":"2024-01-10","cmf":0.039},{"date":"2024-01-11","cmf":-0.009},{"date":"2024-01-12","cmf":-0.031},{"date":"2024-01-15","cmf":0.039},{"date":"2024-01-16","cmf":-0.003},{"date":"2024-01-17","cmf":-0.153},{"date":"2024-01-19","cmf":-0.143},{"date":"2024-01-22","cmf":-0.179},{"date":"2024-01-23","cmf":-0.233},{"date":"2024-01-24","cmf":-0.245},{"date":"2024-01-25","cmf":-0.209},{"date":"2024-01-26","cmf":-0.203}
],
"vpt": [
{"date":"2023-01-20","vpt":4000},{"date":"2023-01-31","vpt":3100},{"date":"2023-02-06","vpt":4000},{"date":"2023-02-07","vpt":9800},{"date":"2023-02-08","vpt":10700},{"date":"2023-02-09","vpt":4000},{"date":"2023-02-10","vpt":3100},{"date":"2023-02-13","vpt":3100},{"date":"2023-02-14","vpt":6000},{"date":"2023-02-15","vpt":4000},{"date":"2023-02-16","vpt":4000},{"date":"2023-02-20","vpt":3100},{"date":"2023-02-24","vpt":2200},{"date":"2023-02-27","vpt":-700},{"date":"2023-03-02","vpt":5000},{"date":"2023-03-03","vpt":6000},{"date":"2023-03-06","vpt":54300},{"date":"2023-03-07","vpt":76100},{"date":"2023-03-08","vpt":23000},{"date":"2023-03-09","vpt":-5400},{"date":"2023-03-10","vpt":-2600},{"date":"2023-03-13","vpt":4100},{"date":"2023-03-14","vpt":300},{"date":"2023-03-15","vpt":1200},{"date":"2023-03-16","vpt":5000},{"date":"2023-03-17","vpt":4100},{"date":"2023-03-23","vpt":5000},{"date":"2023-03-24","vpt":9800},{"date":"2023-03-27","vpt":9800},{"date":"2023-03-28","vpt":4100},{"date":"2023-03-29","vpt":17500},{"date":"2023-03-30","vpt":20400},{"date":"2023-03-31","vpt":6000},{"date":"2023-04-03","vpt":2200},{"date":"2023-04-04","vpt":34400},{"date":"2023-04-05","vpt":122600},{"date":"2023-04-06","vpt":79900},{"date":"2023-04-07","vpt":1200},{"date":"2023-04-10","vpt":5000},{"date":"2023-04-11","vpt":-10100},{"date":"2023-04-12","vpt":-10100},{"date":"2023-04-14","vpt":2200},{"date":"2023-04-17","vpt":5000},{"date":"2023-04-18","vpt":-1600},{"date":"2023-04-20","vpt":-3500},{"date":"2023-04-21","vpt":-6400},{"date":"2023-04-24","vpt":2200},{"date":"2023-04-26","vpt":-1600},{"date":"2023-04-27","vpt":5000},{"date":"2023-04-28","vpt":6000},{"date":"2023-05-02","vpt":68500},{"date":"2023-05-03","vpt":62800},{"date":"2023-05-04","vpt":-700},{"date":"2023-05-08","vpt":2200},{"date":"2023-05-15","vpt":4100},{"date":"2023-05-16","vpt":21100},{"date":"2023-05-17","vpt":21100},{"date":"2023-05-18","vpt":2200},{"date":"2023-05-19","vpt":9800},{"date":"2023-05-22","vpt":12600},{"date":"2023-05-23","vpt":5000},{"date":"2023-05-25","vpt":3100},{"date":"2023-05-30","vpt":4100},{"date":"2023-06-02","vpt":6000},{"date":"2023-06-05","vpt":10700},{"date":"2023-06-07","vpt":9800},{"date":"2023-06-08","vpt":2200},{"date":"2023-06-13","vpt":5000},{"date":"2023-06-16","vpt":2200},{"date":"2023-06-19","vpt":-1600},{"date":"2023-06-22","vpt":5000},{"date":"2023-06-26","vpt":5000},{"date":"2023-06-29","vpt":3100},{"date":"2023-06-30","vpt":4100},{"date":"2023-07-03","vpt":5000},{"date":"2023-07-05","vpt":4100},{"date":"2023-07-06","vpt":-700},{"date":"2023-07-07","vpt":-1600},{"date":"2023-07-12","vpt":6000},{"date":"2023-07-14","vpt":4100},{"date":"2023-07-18","vpt":5000},{"date":"2023-07-21","vpt":3100},{"date":"2023-07-25","vpt":5000},{"date":"2023-07-26","vpt":1200},{"date":"2023-07-27","vpt":1200},{"date":"2023-07-28","vpt":6000},{"date":"2023-08-01","vpt":6000},{"date":"2023-08-08","vpt":2200},{"date":"2023-08-10","vpt":6000},{"date":"2023-08-14","vpt":5000},{"date":"2023-08-16","vpt":297900},{"date":"2023-08-17","vpt":186100},{"date":"2023-08-18","vpt":-86000},{"date":"2023-08-21","vpt":51500},{"date":"2023-08-22","vpt":32500},{"date":"2023-08-23","vpt":216400},{"date":"2023-08-24","vpt":248600},{"date":"2023-08-25","vpt":23000},{"date":"2023-08-28","vpt":-13000},{"date":"2023-08-29","vpt":15500},{"date":"2023-08-31","vpt":13600},{"date":"2023-09-01","vpt":23000},{"date":"2023-09-04","vpt":6000},{"date":"2023-09-05","vpt":-2600},{"date":"2023-09-06","vpt":-17700},{"date":"2023-09-07","vpt":-22500},{"date":"2023-09-08","vpt":-2600},{"date":"2023-09-11","vpt":-11100},{"date":"2023-09-12","vpt":-11100},{"date":"2023-09-13","vpt":-700},{"date":"2023-09-14","vpt":300},{"date":"2023-09-15","vpt":10700},{"date":"2023-09-18","vpt":18300},{"date":"2023-09-20","vpt":-2600},{"date":"2023-09-21","vpt":1200},{"date":"2023-09-25","vpt":1200},{"date":"2023-10-04","vpt":-5400},{"date":"2023-10-05","vpt":-3500},{"date":"2023-10-06","vpt":4100},{"date":"2023-10-10","vpt":3100},{"date":"2023-10-11","vpt":12600},{"date":"2023-10-12","vpt":14500},{"date":"2023-10-13","vpt":6900},{"date":"2023-10-17","vpt":15500},{"date":"2023-10-18","vpt":68500},{"date":"2023-10-19","vpt":97900},{"date":"2023-10-20","vpt":49600},{"date":"2023-10-23","vpt":18300},{"date":"2023-10-25","vpt":-10100},{"date":"2023-10-26","vpt":-31900},{"date":"2023-10-27","vpt":13600},{"date":"2023-10-30","vpt":33500},{"date":"2023-10-31","vpt":-2600},{"date":"2023-11-01","vpt":-2600},{"date":"2023-11-02","vpt":10700},{"date":"2023-11-03","vpt":11700},{"date":"2023-11-06","vpt":21100},{"date":"2023-11-07","vpt":10700},{"date":"2023-11-08","vpt":-5400},{"date":"2023-11-09","vpt":4100},{"date":"2023-11-10","vpt":-1600},{"date":"2023-11-13","vpt":-700},{"date":"2023-11-14","vpt":6000},{"date":"2023-11-15","vpt":240900},{"date":"2023-11-16","vpt":228600},{"date":"2023-11-17","vpt":-13000},{"date":"2023-11-20","vpt":-700},{"date":"2023-11-21","vpt":3100},{"date":"2023-11-22","vpt":3100},{"date":"2023-11-23","vpt":6000},{"date":"2023-11-24","vpt":6000},{"date":"2023-11-27","vpt":1200},{"date":"2023-11-28","vpt":4100},{"date":"2023-11-29","vpt":5000},{"date":"2023-11-30","vpt":3100},{"date":"2023-12-01","vpt":6000},{"date":"2023-12-04","vpt":187000},{"date":"2023-12-05","vpt":167100},{"date":"2023-12-06","vpt":-11100},{"date":"2023-12-07","vpt":11700},{"date":"2023-12-08","vpt":18300},{"date":"2023-12-11","vpt":15500},{"date":"2023-12-12","vpt":6000},{"date":"2023-12-13","vpt":-7300},{"date":"2023-12-14","vpt":-5400},{"date":"2023-12-15","vpt":43900},{"date":"2023-12-18","vpt":53400},{"date":"2023-12-19","vpt":11700},{"date":"2023-12-20","vpt":-5400},{"date":"2023-12-21","vpt":6000},{"date":"2023-12-22","vpt":6900},{"date":"2023-12-26","vpt":-9200},{"date":"2023-12-27","vpt":-6400},{"date":"2023-12-28","vpt":6000},{"date":"2024-01-02","vpt":6000},{"date":"2024-01-03","vpt":-6400},{"date":"2024-01-04","vpt":-6400},{"date":"2024-01-05","vpt":4100},{"date":"2024-01-09","vpt":5000},{"date":"2024-01-10","vpt":2200},{"date":"2024-01-11","vpt":-3500},{"date":"2024-01-15","vpt":9800},{"date":"2024-01-16","vpt":9800},{"date":"2024-01-17","vpt":300},{"date":"2024-01-19","vpt":27800},{"date":"2024-01-22","vpt":-6400},{"date":"2024-01-23","vpt":-14900},{"date":"2024-01-24","vpt":4100},{"date":"2024-01-25","vpt":-700},{"date":"2024-01-26","vpt":-11100}
]
},
"spacing": 39,
"bounds": "flush",
"resolve": {"scale": {"x": "independent", "y": "independent", "color": "independent"}, "axis": {"x": "independent", "y": "independent"}, "legend": {"color": "independent"}},
"vconcat": [
{
 "width": 1894, "height": 364,
 "data": {"name": "price"},
 "mark": {"type": "line", "color": "green", "strokeWidth": 2.08},
 "encoding": {
  "x": {"field": "date", "type": "temporal", "scale": {"type": "utc", "domain": [1672570080000, 1707829920000]}, "axis": null},
  "y": {"field": "close", "type": "quantitative", "scale": {"domain": [22740, 48760], "nice": false, "zero": false}, "axis": {"values": [25000, 30000, 35000, 40000, 45000], "format": "d", "title": null}}
 }
},
{
 "width": 1894, "height": 180,
 "data": {"name": "bars"},
 "mark": {"type": "bar", "size": 4},
 "encoding": {
  "x": {"field": "t", "type": "temporal", "scale": {"type": "utc", "domain": [1672570080000, 1707829920000]}, "axis": null},
  "y": {"field": "volume", "type": "quantitative", "scale": {"domain": [0, 1600000], "nice": false}, "axis": {"values": [0, 500000, 1000000, 1500000], "labelExpr": "format(datum.value / 1000000, '.1f')", "title": "1e6", "titleAngle": 0, "titleAlign": "left", "titleBaseline": "alphabetic", "titleX": 0, "titleY": -5, "titleFontSize": 13.9, "titleFontWeight": "normal"}},
  "color": {"field": "dir", "type": "nominal", "scale": {"domain": ["up", "down", "flat"], "range": ["red", "blue", "black"]}, "legend": null}
 }
},
{
 "width": 1894, "height": 182,
 "data": {"name": "obv"},
 "mark": {"type": "line", "strokeWidth": 2.08},
 "encoding": {
  "x": {"field": "date", "type": "temporal", "scale": {"type": "utc", "domain": [1672570080000, 1707829920000]}, "axis": null},
  "y": {"field": "obv", "type": "quantitative", "scale": {"domain": [-306000, 6840000], "nice": false, "zero": false}, "axis": {"values": [0, 2000000, 4000000, 6000000], "labelExpr": "format(datum.value / 1000000, 'd')", "title": "1e6", "titleAngle": 0, "titleAlign": "left", "titleBaseline": "alphabetic", "titleX": 0, "titleY": -5, "titleFontSize": 13.9, "titleFontWeight": "normal"}},
  "color": {"datum": "OBV", "type": "nominal", "scale": {"range": ["blue"]}, "legend": {"title": null}}
 }
},
{
 "width": 1894, "height": 182,
 "data": {"name": "cmf"},
 "mark": {"type": "line", "strokeWidth": 2.08},
 "encoding": {
  "x": {"field": "date", "type": "temporal", "scale": {"type": "utc", "domain": [1672570080000, 1707829920000]}, "axis": null},
  "y": {"field": "cmf", "type": "quantitative", "scale": {"domain": [-0.32, 0.571], "nice": false, "zero": false}, "axis": {"values": [-0.2, 0, 0.2, 0.4], "format": ".1f", "title": null}},
  "color": {"datum": "CMF(20)", "type": "nominal", "scale": {"range": ["blue"]}, "legend": {"title": null}}
 }
},
{
 "width": 1894, "height": 181,
 "data": {"name": "vpt"},
 "mark": {"type": "line", "strokeWidth": 2.08},
 "encoding": {
  "x": {"field": "date", "type": "temporal", "scale": {"type": "utc", "domain": [1672570080000, 1707829920000]}, "axis": {"values": [{"year": 2023, "month": 3, "date": 1, "utc": true}, {"year": 2023, "month": 5, "date": 1, "utc": true}, {"year": 2023, "month": 7, "date": 1, "utc": true}, {"year": 2023, "month": 9, "date": 1, "utc": true}, {"year": 2023, "month": 11, "date": 1, "utc": true}, {"year": 2024, "month": 1, "date": 1, "utc": true}], "labelExpr": "utcFormat(datum.value, '%Y-%m')", "title": null}},
  "y": {"field": "vpt", "type": "quantitative", "scale": {"domain": [-105500, 316000], "nice": false, "zero": false}, "axis": {"values": [-100000, 0, 100000, 200000, 300000], "format": "d", "title": null}},
  "color": {"datum": "VPT", "type": "nominal", "scale": {"range": ["blue"]}, "legend": {"title": null}}
 }
}
]
}
